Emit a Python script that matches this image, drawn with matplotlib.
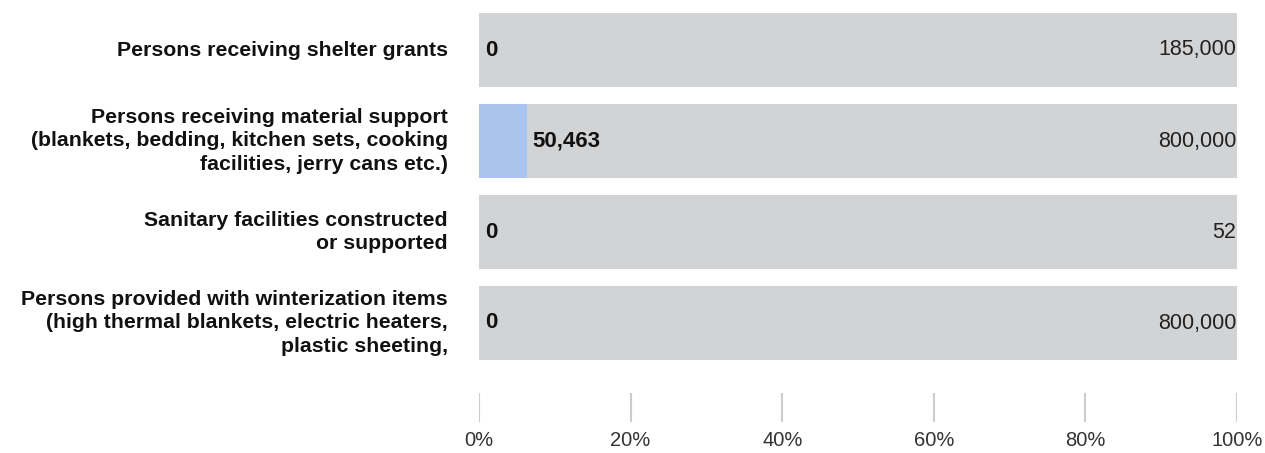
import matplotlib
matplotlib.use("Agg")
import matplotlib.pyplot as plt

categories = [
    "Persons receiving shelter grants",
    "Persons receiving material support\n(blankets, bedding, kitchen sets, cooking\nfacilities, jerry cans etc.)",
    "Sanitary facilities constructed\nor supported",
    "Persons provided with winterization items\n(high thermal blankets, electric heaters,\nplastic sheeting,",
]
achieved = [0, 50463, 0, 0]
targets = [185000, 800000, 52, 800000]
tick_values = [0, 20, 40, 60, 80, 100]
tick_labels = ["0%", "20%", "40%", "60%", "80%", "100%"]

plt.rcParams['font.family'] = ['Liberation Sans', 'DejaVu Sans']

W, H = 1265, 453
fig = plt.figure(figsize=(W / 100, H / 100), dpi=100)
x0, x1 = 479, 1237
ax = fig.add_axes([x0 / W, 0, (x1 - x0) / W, 1])
ax.set_xlim(0, 100)
row_px = 91
top_center = 50
ax.set_ylim((H - top_center) / row_px, -top_center / row_px)
ax.axis('off')

grey = '#D2D3D5'
blue = '#AAC4EE'
bar_h = 74 / row_px
ys = list(range(len(categories)))
pct = [a / t * 100 for a, t in zip(achieved, targets)]

ax.barh(ys, [100] * len(ys), height=bar_h, color=grey, zorder=1)
ax.barh(ys, pct, height=bar_h, color=blue, zorder=2)

for y, p, a, t, c in zip(ys, pct, achieved, targets, categories):
    ax.text(p + 0.75, y, f"{a:,}", ha='left', va='center', fontsize=16,
            fontweight='bold', color='#111111', zorder=3)
    ax.text(99.9, y, f"{t:,}", ha='right', va='center', fontsize=15.5,
            color='#222222', zorder=3)
    ax.text(-4.1, y, c, ha='right', va='center', fontsize=15.3,
            fontweight='bold', color='#111111', linespacing=1.3,
            multialignment='right', clip_on=False)

tick_top = (393 - top_center) / row_px
tick_bot = (422 - top_center) / row_px
lab_y = (441 - top_center) / row_px
ax.vlines(tick_values, tick_top, tick_bot, color='#CCCCCC', linewidth=1.5)
for v, l in zip(tick_values, tick_labels):
    ax.text(v, lab_y, l, ha='center', va='center', fontsize=14.5,
            color='#333333', clip_on=False)

fig.savefig("out.png", dpi=100)
